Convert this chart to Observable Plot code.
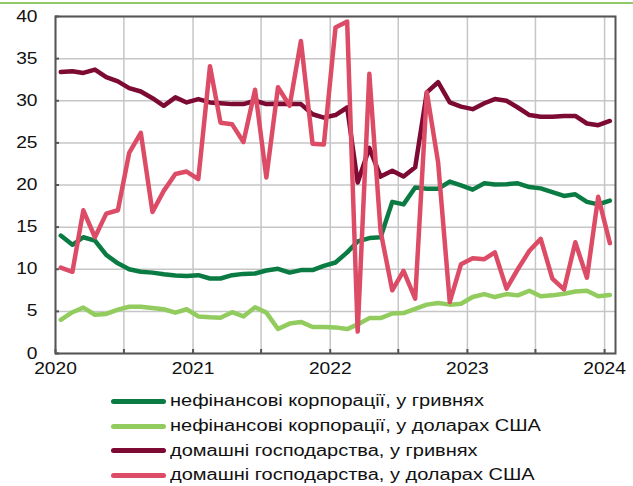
<!DOCTYPE html>
<html><head><meta charset="utf-8">
<script src="https://cdn.jsdelivr.net/npm/d3@7"></script>
<script src="https://cdn.jsdelivr.net/npm/@observablehq/plot@0.6"></script>
<style>
body{margin:0;background:#fff;font-family:"Liberation Sans",Arial,sans-serif;}
#wrap{position:relative;width:633px;height:486px;overflow:hidden;}
#topline{position:absolute;left:0;top:2px;width:633px;height:2px;background:#8fca66;z-index:5;}
#chart{position:absolute;left:0;top:0;}
.item{position:absolute;left:111px;height:20px;display:flex;align-items:center;white-space:nowrap;}
.sw{width:55px;height:5px;border-radius:3px;flex:none;}
.lab{margin-left:4px;font-size:16px;color:#111;display:inline-block;transform:scaleX(1.25);transform-origin:left center;}
</style>
</head><body>
<div id="wrap"><div id="chart"></div><div id="topline"></div><div id="legend"></div></div>
<script>
const seriesNames = [
  "нефінансові корпорації, у гривнях",
  "нефінансові корпорації, у доларах США",
  "домашні господарства, у гривнях",
  "домашні господарства, у доларах США"
];
const seriesColors = ["#0b7b44", "#92cc5f", "#7c0a33", "#dd4c66"];
const yTicks = [0, 5, 10, 15, 20, 25, 30, 35, 40];
const yearLabels = ["2020", "2021", "2022", "2023", "2024"];

// monthly values, Jan 2020 – Jan 2024
const corpUAH = [14.0,12.9,13.8,13.4,11.7,10.7,10.0,9.7,9.6,9.4,9.25,9.2,9.3,8.9,8.9,9.3,9.45,9.5,9.85,10.05,9.6,9.9,9.9,10.4,10.8,12.0,13.3,13.7,13.8,18.0,17.7,19.7,19.55,19.55,20.4,19.95,19.45,20.2,20.05,20.1,20.2,19.75,19.6,19.15,18.7,18.9,18.0,17.7,18.15];
const corpUSD = [4.0,4.9,5.45,4.6,4.7,5.2,5.55,5.55,5.4,5.25,4.85,5.25,4.4,4.3,4.25,4.9,4.4,5.5,4.85,2.9,3.55,3.75,3.15,3.15,3.1,2.9,3.45,4.2,4.2,4.75,4.8,5.3,5.8,6.0,5.8,5.9,6.7,7.05,6.7,7.05,6.9,7.45,6.8,6.9,7.1,7.35,7.45,6.8,6.95];
const hhUAH = [33.4,33.5,33.3,33.7,32.8,32.3,31.5,31.1,30.3,29.4,30.4,29.8,30.2,29.8,29.7,29.6,29.6,30.0,29.6,29.65,29.6,29.6,28.4,28.0,28.3,29.2,20.3,24.4,21.0,21.7,21.0,22.1,31.0,32.2,29.8,29.3,29.0,29.7,30.2,30.0,29.2,28.3,28.1,28.1,28.2,28.2,27.3,27.1,27.6];
const hhUSD = [10.2,9.7,17.0,13.8,16.6,17.0,23.8,26.2,16.8,19.3,21.3,21.6,20.7,34.1,27.4,27.2,25.1,31.3,20.9,31.6,29.4,37.1,24.9,24.8,38.7,39.4,2.6,33.2,14.5,7.5,9.8,6.5,31.0,22.7,6.1,10.6,11.3,11.2,12.0,7.7,10.0,12.2,13.6,8.9,7.6,13.2,9.0,18.6,13.1];
const seriesValues = [corpUAH, corpUSD, hhUAH, hhUSD];

const start = new Date(Date.UTC(2020, 0, 1));
const months = d3.utcMonth.range(start, new Date(Date.UTC(2024, 1, 1)));
const data = months.flatMap((m, i) => seriesNames.map((n, k) => ({
  date: d3.utcDay.offset(m, 14), value: seriesValues[k][i], series: n
})));
const yearTicks = yearLabels.map(y => new Date(Date.UTC(+y, 0, 1)));
const gridTicks = d3.utcMonth.every(6).range(start, new Date(Date.UTC(2024, 1, 1)));

const W = 633, H = 380, ML = 55, MR = 18, MT = 16, MB = 27;
const plotW = W - ML - MR, plotH = H - MT - MB;

const svg = Plot.plot({
  width: W, height: H, marginLeft: ML, marginRight: MR, marginTop: MT, marginBottom: MB,
  x: {type: "utc", domain: [start, new Date(Date.UTC(2024, 0, 30))], label: null},
  y: {domain: [0, 40], label: null},
  color: {domain: seriesNames, range: seriesColors},
  style: {fontFamily: "'Liberation Sans', Arial, sans-serif", fontSize: "16px", color: "#111", background: "transparent"},
  marks: [
    Plot.gridY(yTicks, {stroke: "#c6c6c6", strokeOpacity: 1, strokeWidth: 1.5}),
    Plot.gridX(gridTicks, {stroke: "#c6c6c6", strokeOpacity: 1, strokeWidth: 1.5}),
    Plot.ruleX(gridTicks, {stroke: "#555", strokeWidth: 2, insetTop: plotH - 4}),
    Plot.ruleY(yTicks, {stroke: "#555", strokeWidth: 2, insetRight: plotW - 4}),
    Plot.axisY(yTicks, {tickSize: 0, tickPadding: 18, label: null, fontSize: 16, fill: "#111"}),
    Plot.axisX(yearTicks, {tickSize: 0, tickPadding: 9, label: null, fontSize: 16, fill: "#111", tickFormat: d3.utcFormat("%Y")}),
    Plot.lineY(data, {x: "date", y: "value", z: "series", stroke: "series", strokeWidth: 4.5, strokeLinejoin: "round", strokeLinecap: "round"}),
    Plot.frame({stroke: "#555", strokeWidth: 2})
  ]
});
// widen tick labels horizontally like the reference
const S = 1.2;
svg.querySelectorAll("text").forEach(t => {
  let x = parseFloat(t.getAttribute("x"));
  if (!isFinite(x)) x = 0;
  const tr = t.getAttribute("transform") || "";
  t.setAttribute("transform", `${tr} translate(${x},0) scale(${S},1) translate(${-x},0)`.trim());
});
document.getElementById("chart").appendChild(svg);

const legendRows = [401, 426, 450.5, 475];
const legend = document.getElementById("legend");
seriesNames.forEach((n, k) => {
  const it = document.createElement("div");
  it.className = "item";
  it.style.top = (legendRows[k] - 10) + "px";
  it.innerHTML = `<div class="sw" style="background:${seriesColors[k]}"></div><span class="lab">${n}</span>`;
  legend.appendChild(it);
});
</script>
</body></html>
